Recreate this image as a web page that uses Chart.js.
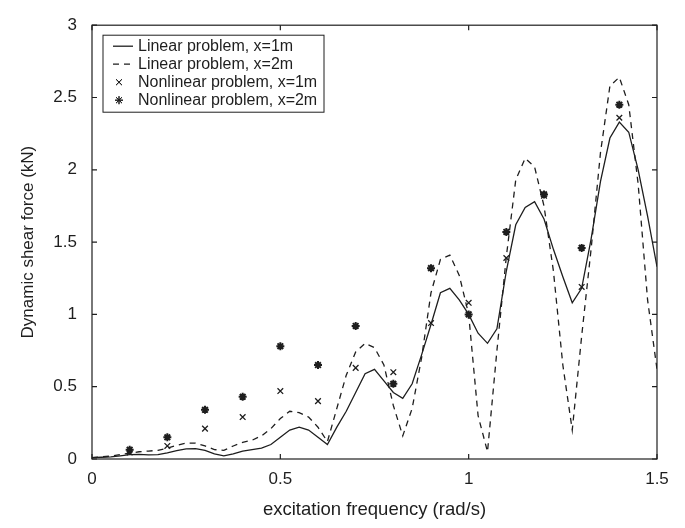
<!DOCTYPE html>
<html>
<head>
<meta charset="utf-8">
<script src="https://cdn.jsdelivr.net/npm/chart.js@4.4.1/dist/chart.umd.min.js"></script>
<style>
  body { margin: 0; background: #fff; }
  #wrap { width: 685px; height: 528px; }
</style>
</head>
<body>
<div id="wrap"><canvas id="chart" width="685" height="528"></canvas></div>
<script>
// excitation frequency samples for the linear curves (rad/s)
const freq = [
  0, 0.025, 0.05, 0.075, 0.1, 0.125, 0.15, 0.175, 0.2, 0.225,
  0.25, 0.275, 0.3, 0.325, 0.35, 0.375, 0.4, 0.425, 0.45, 0.475,
  0.5, 0.525, 0.55, 0.575, 0.6, 0.625, 0.65, 0.675, 0.7, 0.725,
  0.75, 0.775, 0.8, 0.825, 0.85, 0.875, 0.9, 0.925, 0.95, 0.975,
  1.0, 1.025, 1.05, 1.075, 1.1, 1.125, 1.15, 1.175, 1.2, 1.225,
  1.25, 1.275, 1.3, 1.325, 1.35, 1.375, 1.4, 1.425, 1.45, 1.475, 1.5
];

// Linear problem, x=1m (kN)
const linear1m = [
  0.01, 0.012, 0.015, 0.022, 0.03, 0.032, 0.028, 0.03, 0.042, 0.058,
  0.07, 0.072, 0.06, 0.035, 0.022, 0.035, 0.055, 0.065, 0.075, 0.1,
  0.15, 0.2, 0.22, 0.2, 0.15, 0.1, 0.22, 0.33, 0.46, 0.59,
  0.62, 0.54, 0.46, 0.42, 0.52, 0.72, 0.93, 1.15, 1.18, 1.1,
  1.0, 0.87, 0.8, 0.9, 1.3, 1.62, 1.74, 1.78, 1.66, 1.45,
  1.26, 1.08, 1.18, 1.52, 1.92, 2.22, 2.33, 2.26, 2.0, 1.68, 1.33
];

// Linear problem, x=2m (kN)
const linear2m = [
  0.01, 0.015, 0.02, 0.03, 0.04, 0.05, 0.055, 0.06, 0.075, 0.095,
  0.11, 0.11, 0.09, 0.065, 0.06, 0.09, 0.115, 0.13, 0.16, 0.21,
  0.28, 0.33, 0.32, 0.29, 0.22, 0.12, 0.35, 0.58, 0.74, 0.8,
  0.77, 0.65, 0.37, 0.16, 0.35, 0.7, 1.15, 1.38, 1.41, 1.27,
  1.0, 0.3, 0.05, 0.75, 1.4, 1.93, 2.08, 2.02, 1.75, 1.3,
  0.65, 0.2, 0.85, 1.45, 2.12, 2.58, 2.64, 2.45, 1.9, 1.1, 0.62
];

// nonlinear problem samples
const nlFreq = [0.1, 0.2, 0.3, 0.4, 0.5, 0.6, 0.7, 0.8, 0.9, 1.0, 1.1, 1.2, 1.3, 1.4];
const nonlinear1m = [0.045, 0.09, 0.21, 0.29, 0.47, 0.4, 0.63, 0.6, 0.94, 1.08, 1.39, 1.82, 1.19, 2.36];
const nonlinear2m = [0.064, 0.15, 0.34, 0.43, 0.78, 0.65, 0.92, 0.52, 1.32, 1.0, 1.57, 1.83, 1.46, 2.45];

const xTicks = [0, 0.5, 1, 1.5];
const yTicks = [0, 0.5, 1, 1.5, 2, 2.5, 3];

const ink = '#1e1e1e';
const fontFamily = "'Liberation Sans', Arial, sans-serif";

const toPoints = (xs, ys) => xs.map((x, i) => ({ x: x, y: ys[i] }));

// frame around the plot + inward tick marks (matlab style)
const framePlugin = {
  id: 'frame',
  afterDatasetsDraw(chart) {
    const { ctx, chartArea: a, scales } = chart;
    const len = 5;
    ctx.save();
    ctx.strokeStyle = ink;
    ctx.lineWidth = 1.2;
    ctx.strokeRect(a.left, a.top, a.right - a.left, a.bottom - a.top);
    ctx.beginPath();
    xTicks.forEach(v => {
      const px = scales.x.getPixelForValue(v);
      ctx.moveTo(px, a.bottom); ctx.lineTo(px, a.bottom - len);
      ctx.moveTo(px, a.top); ctx.lineTo(px, a.top + len);
    });
    yTicks.forEach(v => {
      const py = scales.y.getPixelForValue(v);
      ctx.moveTo(a.left, py); ctx.lineTo(a.left + len, py);
      ctx.moveTo(a.right, py); ctx.lineTo(a.right - len, py);
    });
    ctx.stroke();
    ctx.restore();
  }
};

// legend box in the upper left corner of the plot
const legendPlugin = {
  id: 'boxLegend',
  afterDraw(chart) {
    const { ctx, chartArea: a } = chart;
    const box = { x: a.left + 11, y: a.top + 10, w: 221, h: 77 };
    ctx.save();
    ctx.fillStyle = '#fff';
    ctx.fillRect(box.x, box.y, box.w, box.h);
    ctx.strokeStyle = ink;
    ctx.lineWidth = 1;
    ctx.strokeRect(box.x, box.y, box.w, box.h);

    ctx.font = '16px ' + fontFamily;
    ctx.textBaseline = 'middle';
    ctx.fillStyle = ink;
    chart.data.datasets.forEach((ds, i) => {
      const cy = box.y + 11 + i * 18;
      const sx = box.x + 10;
      ctx.save();
      ctx.strokeStyle = ink;
      if (ds.showLine) {
        ctx.lineWidth = ds.borderWidth;
        ctx.setLineDash(ds.borderDash || []);
        ctx.beginPath();
        ctx.moveTo(sx, cy);
        ctx.lineTo(sx + 20, cy);
        ctx.stroke();
      } else {
        Chart.helpers.drawPoint(ctx, {
          pointStyle: ds.pointStyle,
          radius: ds.pointRadius,
          borderWidth: ds.borderWidth,
          rotation: 0
        }, sx + 6, cy);
        ctx.stroke();
      }
      ctx.restore();
      ctx.fillText(ds.label, box.x + 35, cy);
    });
    ctx.restore();
  }
};

new Chart(document.getElementById('chart'), {
  type: 'scatter',
  data: {
    datasets: [
      {
        label: 'Linear problem, x=1m',
        data: toPoints(freq, linear1m),
        showLine: true,
        borderColor: ink,
        borderWidth: 1.3,
        pointRadius: 0,
        tension: 0
      },
      {
        label: 'Linear problem, x=2m',
        data: toPoints(freq, linear2m),
        showLine: true,
        borderColor: ink,
        borderWidth: 1.3,
        borderDash: [6, 5],
        pointRadius: 0,
        tension: 0
      },
      {
        label: 'Nonlinear problem, x=1m',
        data: toPoints(nlFreq, nonlinear1m),
        showLine: false,
        pointStyle: 'crossRot',
        pointRadius: 4,
        borderWidth: 1.3,
        borderColor: ink,
        backgroundColor: ink
      },
      {
        label: 'Nonlinear problem, x=2m',
        data: toPoints(nlFreq, nonlinear2m),
        showLine: false,
        pointStyle: 'star',
        pointRadius: 4,
        borderWidth: 2,
        borderColor: ink,
        backgroundColor: ink
      }
    ]
  },
  options: {
    responsive: false,
    animation: false,
    layout: { padding: { top: 14, right: 28, left: 0, bottom: 0 } },
    plugins: {
      legend: { display: false },
      tooltip: { enabled: false }
    },
    scales: {
      x: {
        type: 'linear',
        min: 0,
        max: 1.5,
        grid: { display: false, drawTicks: false },
        border: { display: false },
        afterBuildTicks: (scale) => { scale.ticks = xTicks.map(v => ({ value: v })); },
        afterFit: (scale) => { scale.height = 69; },
        ticks: {
          color: ink,
          padding: 10,
          font: { family: fontFamily, size: 17 },
          callback: (v) => String(v)
        },
        title: {
          display: true,
          text: 'excitation frequency (rad/s)',
          color: ink,
          padding: { top: 0, bottom: 7 },
          font: { family: fontFamily, size: 18.5 }
        }
      },
      y: {
        type: 'linear',
        min: 0,
        max: 3,
        grid: { display: false, drawTicks: false },
        border: { display: false },
        afterBuildTicks: (scale) => { scale.ticks = yTicks.map(v => ({ value: v })); },
        afterFit: (scale) => { scale.width = 92; },
        ticks: {
          color: ink,
          padding: 15,
          font: { family: fontFamily, size: 17 },
          callback: (v) => String(v)
        },
        title: {
          display: true,
          text: 'Dynamic shear force (kN)',
          color: ink,
          padding: { top: 18, bottom: 0 },
          font: { family: fontFamily, size: 17 }
        }
      }
    }
  },
  plugins: [framePlugin, legendPlugin]
});
</script>
</body>
</html>
